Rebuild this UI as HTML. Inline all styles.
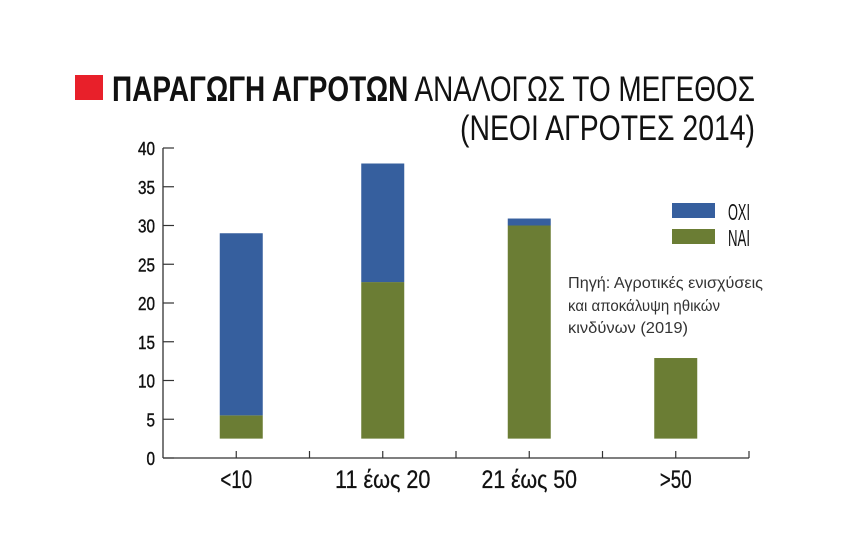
<!DOCTYPE html>
<html><head><meta charset="utf-8"><style>
html,body{margin:0;padding:0;background:#fff;}
svg{display:block;font-family:"Liberation Sans Narrow","Liberation Sans",sans-serif;}
</style></head><body>
<svg id="chart" width="860" height="555" viewBox="0 0 860 555" xmlns="http://www.w3.org/2000/svg">
<rect x="75" y="75" width="28" height="25" fill="#e8202a"/>
<text x="112" y="101" font-size="35" fill="#111" textLength="643" lengthAdjust="spacingAndGlyphs"><tspan font-weight="bold">ΠΑΡΑΓΩΓΗ ΑΓΡΟΤΩΝ</tspan> ΑΝΑΛΟΓΩΣ ΤΟ ΜΕΓΕΘΟΣ</text>
<text x="460" y="140" font-size="35" fill="#111" textLength="295" lengthAdjust="spacingAndGlyphs">(ΝΕΟΙ ΑΓΡΟΤΕΣ 2014)</text>
<g id="axes"></g>
<g id="bars"></g>
<rect x="672" y="203" width="43" height="15" fill="#365f9e"/>
<text x="728" y="220" font-size="23" fill="#111" textLength="22" lengthAdjust="spacingAndGlyphs">ΟΧΙ</text>
<rect x="672" y="229" width="43" height="15" fill="#6b7d34"/>
<text x="728" y="246" font-size="23" fill="#111" textLength="22" lengthAdjust="spacingAndGlyphs">ΝΑΙ</text>
<g font-family="Liberation Sans, sans-serif" font-size="15.5" fill="#333">
<text x="568" y="288" textLength="195" lengthAdjust="spacingAndGlyphs">Πηγή: Αγροτικές ενισχύσεις</text>
<text x="568" y="311" textLength="152" lengthAdjust="spacingAndGlyphs">και αποκάλυψη ηθικών</text>
<text x="568" y="333" textLength="120" lengthAdjust="spacingAndGlyphs">κινδύνων (2019)</text>
</g>
</svg>
<script>
const categories = ["<10","11 έως 20","21 έως 50",">50"];
const naiTop = [5.5,22.7,30,12.9];
const oxiTop = [29,38,30.9,0];
const barBase = 2.5;
const yTicks = [0,5,10,15,20,25,30,35,40];

const NS="http://www.w3.org/2000/svg";
const x0=163, x1=749, yZero=458, pxPer=(458-148)/40;
const y=v=>yZero-v*pxPer;
const step=(x1-x0)/4;
const barShift=[5,0,0,0];
function mk(t,a,p){const e=document.createElementNS(NS,t);for(const k in a)e.setAttribute(k,a[k]);p.appendChild(e);return e;}
const axes=document.getElementById('axes'), bars=document.getElementById('bars');
const ya=mk('line',{x1:x0,y1:y(40),x2:x0,y2:yZero,stroke:'#333','stroke-width':1.3},axes);


const xa=mk('line',{x1:x0,y1:yZero,x2:x1,y2:yZero,stroke:'#333','stroke-width':1.3},axes);


yTicks.forEach(v=>{
  const t=mk('line',{x1:x0,y1:y(v),x2:x0+11,y2:y(v),stroke:'#333','stroke-width':1.2},axes);
  
  
  const s=String(v);
  const l=mk('text',{x:155,y:y(v)+7,'font-size':18,'text-anchor':'end',fill:'#111',stroke:'#111','stroke-width':0.4,textLength:s.length*8.5,lengthAdjust:'spacingAndGlyphs'},axes);
  
  
  l.textContent=s;
});
for(let k=1;k<=8;k++){
  const xx=x0+step*k/2;
  const t=mk('line',{x1:xx,y1:yZero-7,x2:xx,y2:yZero,stroke:'#333','stroke-width':1.2},axes);
  
  
}
categories.forEach((c,i)=>{
  const xc=x0+step*(i+0.5);
  const l=mk('text',{x:xc,y:488,'font-size':25,'text-anchor':'middle',fill:'#111',stroke:'#111','stroke-width':0.3,textLength:c.length*10.6,lengthAdjust:'spacingAndGlyphs'},axes);
  
  
  l.textContent=c;
  const w=43, bx=xc-w/2+barShift[i];
  const g=mk('rect',{x:bx,y:y(naiTop[i]),width:w,height:y(barBase)-y(naiTop[i]),fill:'#6b7d34'},bars);
  
  
  if(oxiTop[i]>naiTop[i]){
    const b=mk('rect',{x:bx,y:y(oxiTop[i]),width:w,height:y(naiTop[i])-y(oxiTop[i]),fill:'#365f9e'},bars);
    
    
  }
});
</script>
</body></html>
